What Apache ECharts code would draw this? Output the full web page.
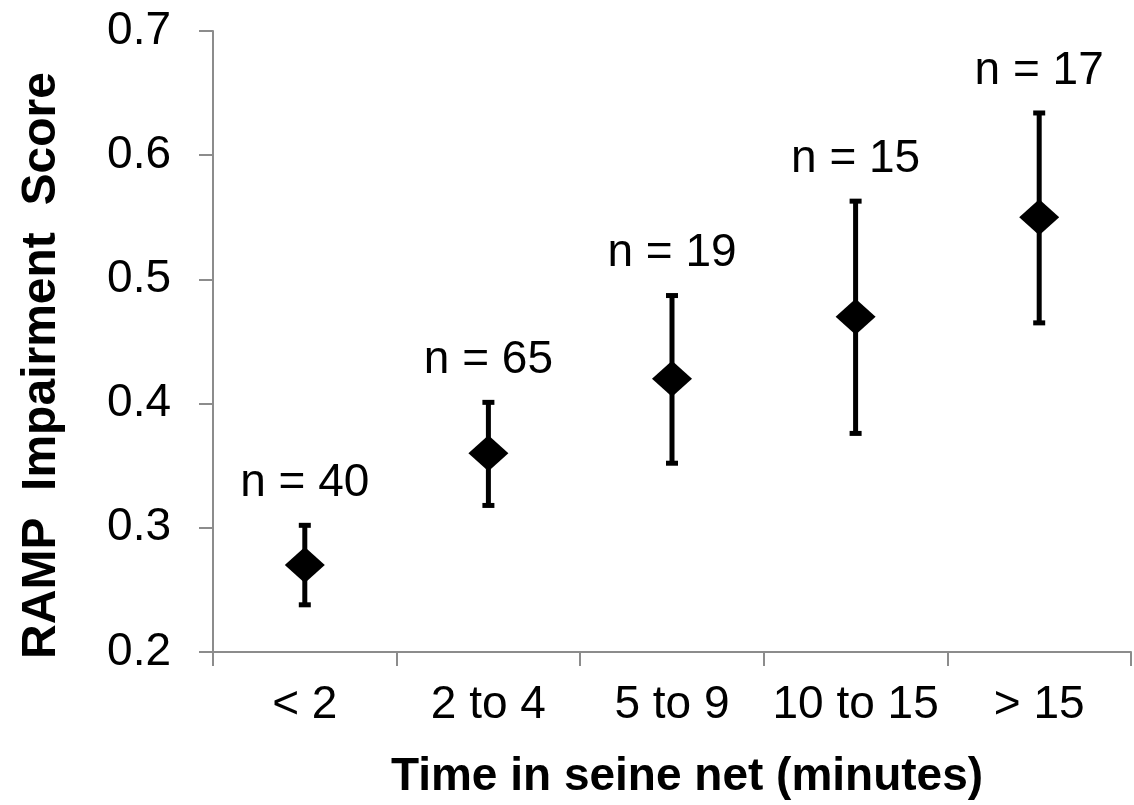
<!DOCTYPE html>
<html>
<head>
<meta charset="utf-8">
<script src="https://cdn.jsdelivr.net/npm/echarts@6/dist/echarts.min.js"></script>
<style>
html,body{margin:0;padding:0;background:#fff;}
#chart{width:1134px;height:805px;}
</style>
</head>
<body>
<div id="chart"></div>
<script>
const categories = ['< 2', '2 to 4', '5 to 9', '10 to 15', '> 15'];
const meanScore = [0.27, 0.36, 0.42, 0.47, 0.55];
const upperBound = [0.302, 0.401, 0.487, 0.563, 0.634];
const lowerBound = [0.238, 0.318, 0.352, 0.376, 0.465];
const sampleSizes = [40, 65, 19, 15, 17];
const yMin = 0.2, yMax = 0.7, yStep = 0.1;

const FONT = '"Liberation Sans", Arial, sans-serif';
const AXIS_GRAY = '#8c8c8c';

const errData = categories.map((c, i) => [i, lowerBound[i], upperBound[i], sampleSizes[i]]);

const chart = echarts.init(document.getElementById('chart'));
chart.setOption({
  backgroundColor: '#fff',
  animation: false,
  grid: { left: 213, right: 3, top: 31, bottom: 150, containLabel: false },
  xAxis: {
    type: 'category',
    data: categories,
    boundaryGap: true,
    name: 'Time in seine net (minutes)',
    nameLocation: 'middle',
    nameGap: 102,
    nameTextStyle: { fontFamily: FONT, fontSize: 46, fontWeight: 'bold', color: '#000', padding: [0, 0, 0, 30] },
    axisLine: { show: true, lineStyle: { color: AXIS_GRAY, width: 2 } },
    axisTick: { show: true, interval: 0, alignWithLabel: false, length: 14, lineStyle: { color: AXIS_GRAY, width: 2 } },
    axisLabel: { interval: 0, fontFamily: FONT, fontSize: 46, color: '#000', margin: 30 },
    splitLine: { show: false }
  },
  yAxis: {
    type: 'value',
    min: yMin, max: yMax, interval: yStep,
    name: 'RAMP  Impairment  Score',
    nameLocation: 'middle',
    nameGap: 147,
    nameTextStyle: { fontFamily: FONT, fontSize: 48, fontWeight: 'bold', color: '#000', padding: [0, 48, 0, 0] },
    axisLine: { show: true, lineStyle: { color: AXIS_GRAY, width: 2 } },
    axisTick: { show: true, length: 14, lineStyle: { color: AXIS_GRAY, width: 2 } },
    axisLabel: { fontFamily: FONT, fontSize: 46, color: '#000', margin: 42, formatter: v => v.toFixed(1) },
    splitLine: { show: false }
  },
  series: [
    {
      type: 'custom',
      data: errData,
      z: 2,
      renderItem: function (params, api) {
        const x = api.value(0);
        const lo = api.coord([x, api.value(1)]);
        const hi = api.coord([x, api.value(2)]);
        const half = 6;
        const st = { stroke: '#000', lineWidth: 5 };
        return {
          type: 'group',
          children: [
            { type: 'line', shape: { x1: lo[0], y1: lo[1], x2: hi[0], y2: hi[1] }, style: st },
            { type: 'line', shape: { x1: hi[0] - half, y1: hi[1], x2: hi[0] + half, y2: hi[1] }, style: st },
            { type: 'line', shape: { x1: lo[0] - half, y1: lo[1], x2: lo[0] + half, y2: lo[1] }, style: st },
            { type: 'text', style: { x: hi[0], y: hi[1] - 42, text: 'n = ' + api.value(3), fill: '#000', font: '46px ' + FONT, textAlign: 'center', textVerticalAlign: 'middle' } }
          ]
        };
      }
    },
    {
      type: 'scatter',
      data: meanScore,
      symbol: 'diamond',
      symbolSize: [40, 36],
      z: 3,
      itemStyle: { color: '#000', opacity: 1 },
      emphasis: { disabled: true }
    }
  ]
});
</script>
</body>
</html>
